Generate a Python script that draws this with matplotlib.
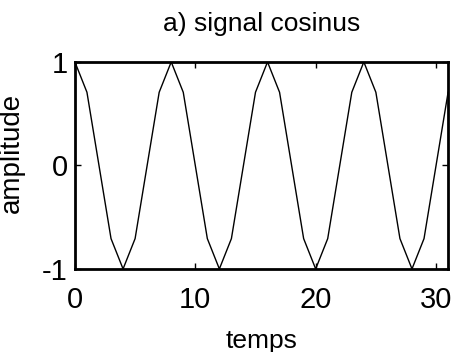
import matplotlib
matplotlib.use('Agg')
import matplotlib.pyplot as plt

# sampled cosine, 8 samples per period
temps = list(range(32))
amplitude = [1, 0.707, 0, -0.707, -1, -0.707, 0, 0.707,
             1, 0.707, 0, -0.707, -1, -0.707, 0, 0.707,
             1, 0.707, 0, -0.707, -1, -0.707, 0, 0.707,
             1, 0.707, 0, -0.707, -1, -0.707, 0, 0.707]
xticks = [0, 10, 20, 30]
yticks = [-1, 0, 1]

plt.rcParams['font.family'] = ['Liberation Sans', 'DejaVu Sans']
plt.rcParams['axes.unicode_minus'] = False

fig = plt.figure(figsize=(4.54, 3.52), dpi=100)
ax = fig.add_axes([0.165, 0.236, 0.822, 0.588])

ax.plot(temps, amplitude, color='black', linewidth=1.0)
ax.set_xlim(0, 31)
ax.set_ylim(-1, 1)
ax.set_xticks(xticks)
ax.set_yticks(yticks)

for s in ax.spines.values():
    s.set_linewidth(2)
ax.tick_params(direction='in', top=True, right=True, length=4, width=1,
               labelsize=21)
ax.tick_params(axis='x', pad=12)
ax.tick_params(axis='y', pad=5)

ax.set_title('a) signal cosinus', fontsize=19, pad=22)
ax.set_xlabel('temps', fontsize=19, labelpad=11)
ax.set_ylabel('amplitude', fontsize=20)
ax.yaxis.set_label_coords(-0.135, 0.56)

fig.savefig('out.png', dpi=100)
